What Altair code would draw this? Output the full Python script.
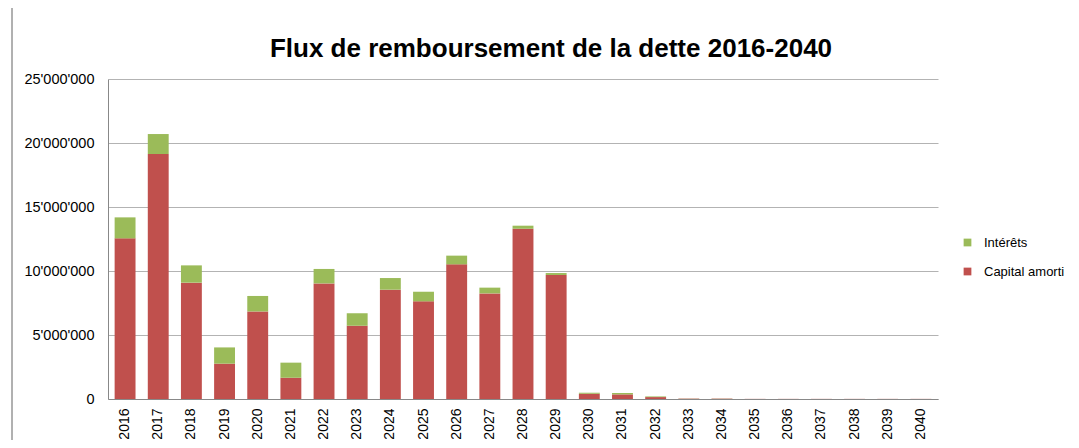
import altair as alt
import pandas as pd

years = [str(y) for y in range(2016, 2041)]
capital = [12.55, 19.14, 9.09, 2.76, 6.84, 1.66, 9.03, 5.73, 8.54, 7.63,
           10.52, 8.25, 13.30, 9.69, 0.41, 0.36, 0.15, 0.03, 0.03, 0.01,
           0.01, 0.01, 0.01, 0.01, 0.01]
totals = [14.19, 20.70, 10.44, 4.03, 8.05, 2.84, 10.16, 6.69, 9.45, 8.38,
          11.20, 8.70, 13.54, 9.84, 0.49, 0.47, 0.20, 0.04, 0.04, 0.01,
          0.01, 0.01, 0.01, 0.01, 0.01]
series = ["Intérêts", "Capital amorti"]
colors = ["#9BBB59", "#C0504D"]
title_text = ["Flux de remboursement de la dette 2016-2040"]

rows = []
for y, c, t in zip(years, capital, totals):
    rows.append({"year": y, "series": "Capital amorti", "value": c * 1e6, "ord": 0})
    rows.append({"year": y, "series": "Intérêts", "value": max(t - c, 0) * 1e6, "ord": 1})
df = pd.DataFrame(rows)

FONT = "Liberation Sans"

bars = alt.Chart(df).mark_bar().encode(
    x=alt.X("year:N", sort=years, title=None,
            scale=alt.Scale(paddingInner=0.37, paddingOuter=0.2),
            axis=alt.Axis(labelAngle=-90, labelAlign="right", labelBaseline="middle",
                          labelPadding=9, ticks=False, domainColor="#888888",
                          labelFont=FONT, labelFontSize=14, labelColor="#000000")),
    y=alt.Y("value:Q", stack="zero", title=None,
            scale=alt.Scale(domain=[0, 25e6], nice=False),
            axis=alt.Axis(values=[0, 5e6, 10e6, 15e6, 20e6, 25e6],
                          labelExpr="replace(format(datum.value, ',d'), /,/g, \"'\")",
                          ticks=False, labelPadding=14, domainColor="#888888",
                          gridColor="#b3b3b3", labelFont=FONT, labelFontSize=14.5,
                          labelColor="#000000")),
    color=alt.Color("series:N", scale=alt.Scale(domain=series, range=colors),
                    legend=alt.Legend(title=None, orient="none", legendX=853, legendY=157,
                                      symbolType="square", symbolSize=60,
                                      labelFont=FONT, labelFontSize=13, labelColor="#000000",
                                      rowPadding=15, labelOffset=10)),
    order=alt.Order("ord:Q"),
)

frame = alt.Chart(df).mark_rule(color="#b0b0b0").encode(
    x=alt.value(-96), y=alt.value(-79), y2=alt.value(370)
)

title = alt.Chart(pd.DataFrame({"t": title_text})).mark_text(
    font=FONT, fontSize=26, fontWeight="bold", color="#000000",
    align="center", baseline="alphabetic"
).encode(text="t:N", x=alt.value(443), y=alt.value(-22))

chart = alt.layer(frame, bars, title).properties(
    width=830, height=320,
    autosize=alt.AutoSizeParams(type="none"),
    padding={"left": 100, "top": 71, "right": 133, "bottom": 41},
).configure_view(stroke=None)

chart.save("out.html", embed_options={"renderer": "svg", "actions": False})
